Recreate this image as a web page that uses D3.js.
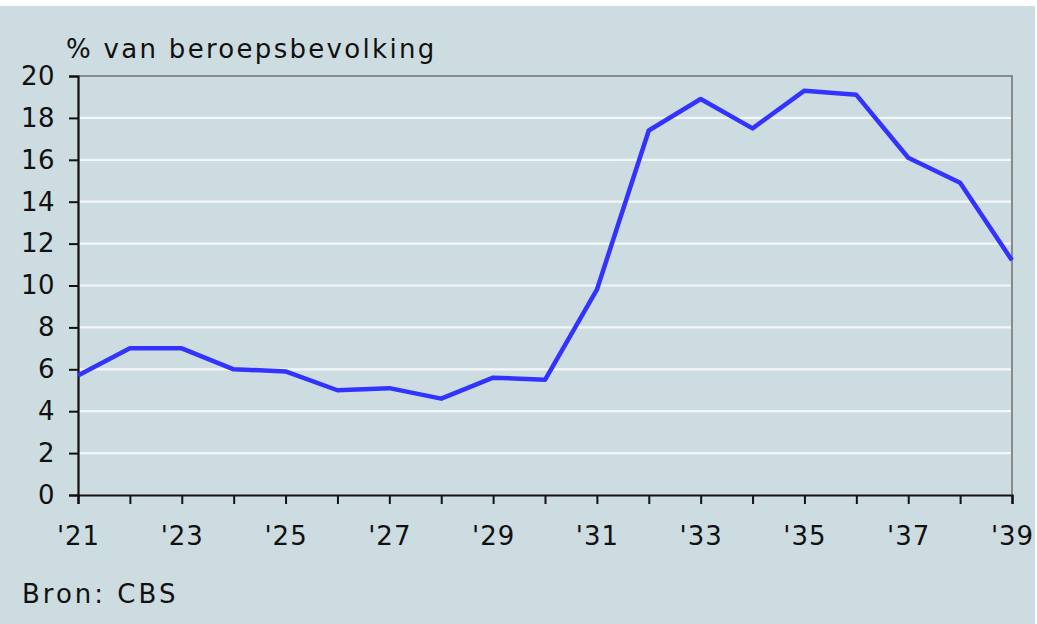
<!DOCTYPE html>
<html>
<head>
<meta charset="utf-8">
<script src="https://cdn.jsdelivr.net/npm/d3@7"></script>
<style>
  html, body { margin: 0; padding: 0; background: #ffffff; }
  svg { display: block; }
  text { font-family: "DejaVu Sans", Verdana, sans-serif; fill: #111; }
</style>
</head>
<body>
<svg id="chart" width="1037" height="624"></svg>
<script>
// ---- data ----
const years = [1921,1922,1923,1924,1925,1926,1927,1928,1929,1930,1931,1932,1933,1934,1935,1936,1937,1938,1939];
const unemployment = [5.7,7.0,7.0,6.0,5.9,5.0,5.1,4.6,5.6,5.5,9.8,17.4,18.9,17.5,19.3,19.1,16.1,14.9,11.2];
const yTicks = [0,2,4,6,8,10,12,14,16,18,20];
const xLabelYears = [1921,1923,1925,1927,1929,1931,1933,1935,1937,1939];
const unitLabel = "% van beroepsbevolking";
const sourceLabel = "Bron: CBS";

// ---- layout ----
const W = 1037, H = 624;
const plot = { left: 78, right: 1012, top: 76, bottom: 495 };
const bg = "#cddce1";

const svg = d3.select("#chart");
svg.append("rect").attr("x", 0).attr("y", 6).attr("width", 1035).attr("height", H - 6).attr("fill", bg);

const x = d3.scaleLinear().domain([years[0], years[years.length - 1]]).range([plot.left, plot.right]);
const y = d3.scaleLinear().domain([0, 20]).range([plot.bottom, plot.top]);

// gridlines
svg.append("g").selectAll("line")
  .data(yTicks.filter(d => d > 0 && d < 20))
  .join("line")
  .attr("x1", plot.left).attr("x2", plot.right)
  .attr("y1", d => y(d)).attr("y2", d => y(d))
  .attr("stroke", "#f4f7f8").attr("stroke-width", 2.2);

// top & right frame
svg.append("line").attr("x1", plot.left).attr("x2", plot.right + 1)
  .attr("y1", plot.top).attr("y2", plot.top).attr("stroke", "#8a8a8a").attr("stroke-width", 2);
svg.append("line").attr("x1", plot.right).attr("x2", plot.right)
  .attr("y1", plot.top).attr("y2", plot.bottom).attr("stroke", "#8a8a8a").attr("stroke-width", 2);

// y axis
const yAxis = svg.append("g")
  .attr("transform", `translate(${plot.left},0)`)
  .call(d3.axisLeft(y).tickValues(yTicks).tickSize(9).tickPadding(14).tickFormat(d3.format("d")));
yAxis.select(".domain").attr("stroke", "#111").attr("stroke-width", 2.2);
yAxis.selectAll(".tick line").attr("stroke", "#111").attr("stroke-width", 2);
yAxis.selectAll(".tick text")
  .style("font-size", "26px").style("letter-spacing", "0.5px")
  .attr("fill", "#111").attr("font-family", null);

// x axis
const xAxis = svg.append("g")
  .attr("transform", `translate(0,${plot.bottom})`)
  .call(d3.axisBottom(x).tickValues(years).tickSize(9)
    .tickFormat(d => xLabelYears.includes(d) ? "'" + String(d).slice(2) : ""));
xAxis.select(".domain").attr("stroke", "#111").attr("stroke-width", 2.2);
xAxis.selectAll(".tick line").attr("stroke", "#111").attr("stroke-width", 2);
xAxis.selectAll(".tick text")
  .attr("y", 50).attr("dy", 0)
  .style("font-size", "26px").style("letter-spacing", "1px")
  .attr("fill", "#111").attr("font-family", null);

// line
const line = d3.line().x((d, i) => x(years[i])).y(d => y(d));
svg.append("path")
  .datum(unemployment)
  .attr("d", line)
  .attr("fill", "none")
  .attr("stroke", "#3333ff")
  .attr("stroke-width", 4.5)
  .attr("stroke-linejoin", "round");

// texts
svg.append("text").attr("x", 66).attr("y", 58)
  .style("font-size", "26px").style("letter-spacing", "2.3px")
  .text(unitLabel);
svg.append("text").attr("x", 22).attr("y", 603)
  .style("font-size", "26px").style("letter-spacing", "3px")
  .text(sourceLabel);
</script>
</body>
</html>
